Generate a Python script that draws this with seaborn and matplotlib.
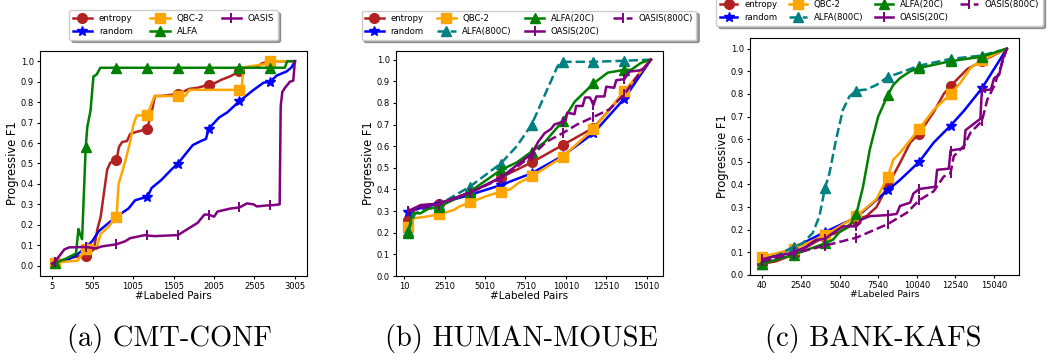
import numpy as np
import matplotlib
matplotlib.use("Agg")
import matplotlib.pyplot as plt
import seaborn as sns
from matplotlib.ticker import MultipleLocator, FormatStrFormatter

# ---------------- (a) CMT-CONF ----------------
a_marks = [40, 420, 800, 1180, 1560, 1940, 2320, 2700]
a_xticks = [5, 505, 1005, 1505, 2005, 2505, 3005]

a_entropy_x = [5, 40, 240, 420, 520, 565, 605, 645, 685, 725, 800, 830, 870, 930, 970, 1010, 1050, 1100,
               1180, 1235, 1275, 1350, 1560, 1620, 1700, 1800, 1940, 2000, 2100, 2200, 2320, 2400, 2550,
               2600, 2700, 3005]
a_entropy_y = [0.01, 0.016, 0.04, 0.05, 0.08, 0.18, 0.24, 0.355, 0.47, 0.505, 0.515, 0.58, 0.605, 0.61,
               0.645, 0.65, 0.655, 0.66, 0.67, 0.75, 0.83, 0.83, 0.84, 0.85, 0.865, 0.87, 0.885, 0.89,
               0.91, 0.925, 0.95, 0.97, 0.975, 0.99, 1.0, 1.0]

a_random_x = [5, 40, 200, 300, 420, 500, 583, 705, 800, 949, 1030, 1112, 1180, 1234, 1356, 1478, 1560,
              1641, 1743, 1845, 1906, 1940, 2069, 2170, 2252, 2320, 2495, 2618, 2700, 2781, 2903, 2964, 3005]
a_random_y = [0.0, 0.01, 0.03, 0.05, 0.09, 0.12, 0.17, 0.21, 0.24, 0.28, 0.32, 0.33, 0.335, 0.38, 0.42,
              0.47, 0.50, 0.54, 0.59, 0.61, 0.62, 0.67, 0.725, 0.75, 0.78, 0.805, 0.86, 0.895, 0.90, 0.93,
              0.95, 0.97, 1.0]

a_qbc_x = [5, 40, 320, 420, 505, 550, 603, 644, 700, 800, 827, 908, 969, 1010, 1051, 1180, 1270, 1560,
           1650, 1700, 2320, 2345, 2370, 2620, 2700, 3005]
a_qbc_y = [0.01, 0.016, 0.025, 0.08, 0.10, 0.08, 0.155, 0.17, 0.19, 0.24, 0.40, 0.51, 0.605, 0.69, 0.735,
           0.735, 0.83, 0.83, 0.83, 0.86, 0.86, 0.86, 0.97, 0.985, 1.0, 1.0]

a_alfa_x = [5, 40, 150, 300, 330, 345, 375, 420, 440, 480, 515, 555, 600, 800, 1180, 1560, 1940, 2320,
            2700, 2880, 2910, 3005]
a_alfa_y = [0.01, 0.015, 0.03, 0.06, 0.18, 0.16, 0.13, 0.58, 0.68, 0.76, 0.925, 0.935, 0.968, 0.968,
            0.968, 0.968, 0.968, 0.968, 0.968, 0.968, 1.0, 1.0]

a_oasis_x = [5, 40, 156, 217, 420, 542, 625, 800, 909, 969, 1153, 1180, 1275, 1560, 1722, 1804, 1886,
             1940, 2007, 2048, 2211, 2320, 2414, 2495, 2536, 2659, 2700, 2817, 2830, 2850, 2883, 2944,
             2985, 3005]
a_oasis_y = [0.01, 0.02, 0.08, 0.09, 0.092, 0.085, 0.095, 0.105, 0.12, 0.135, 0.15, 0.148, 0.145, 0.15,
             0.19, 0.21, 0.25, 0.25, 0.24, 0.265, 0.28, 0.285, 0.305, 0.30, 0.29, 0.295, 0.295, 0.30,
             0.78, 0.85, 0.87, 0.90, 0.905, 1.0]

# ---------------- (b) HUMAN-MOUSE ----------------
b_marks = [260, 2170, 4080, 5990, 7900, 9810, 11720, 13630]
b_xticks = [10, 2510, 5010, 7510, 10010, 12510, 15010]

b_entropy_x = [260, 600, 900, 2170, 4080, 5990, 7900, 9810, 11720, 12500, 13630, 14500, 15270]
b_entropy_y = [0.26, 0.30, 0.32, 0.335, 0.385, 0.455, 0.525, 0.605, 0.685, 0.75, 0.85, 0.93, 1.0]

b_random_x = [260, 830, 2170, 4080, 5990, 7900, 9810, 11720, 13630, 15270]
b_random_y = [0.297, 0.31, 0.335, 0.375, 0.42, 0.475, 0.555, 0.66, 0.82, 1.0]

b_qbc_x = [260, 630, 1440, 2170, 3080, 3390, 4080, 5130, 5990, 6570, 7080, 7900, 9810, 11720, 13630, 15270]
b_qbc_y = [0.225, 0.267, 0.275, 0.285, 0.305, 0.32, 0.34, 0.37, 0.39, 0.40, 0.43, 0.46, 0.55, 0.68, 0.855, 1.0]

b_alfa800_x = [260, 700, 2170, 4080, 5990, 6980, 7900, 9500, 9810, 11720, 13630, 15270]
b_alfa800_y = [0.21, 0.29, 0.33, 0.413, 0.52, 0.60, 0.70, 0.97, 0.99, 0.99, 0.995, 1.0]

b_alfa20_x = [260, 520, 1030, 1500, 2170, 4080, 5990, 6980, 7900, 8716, 9810, 10563, 11720, 12610, 13630,
              14045, 14660, 15270]
b_alfa20_y = [0.20, 0.29, 0.29, 0.31, 0.32, 0.39, 0.49, 0.525, 0.575, 0.62, 0.715, 0.806, 0.89, 0.94, 0.953,
              0.953, 0.985, 1.0]

b_oasis20_x = [260, 1035, 2170, 4080, 5990, 7900, 8300, 8700, 9100, 9300, 9810, 10000, 10100, 10550, 10650,
               11050, 11200, 11500, 11720, 11900, 12400, 12510, 13000, 13130, 13630, 13950, 14560, 14870, 15270]
b_oasis20_y = [0.30, 0.328, 0.335, 0.385, 0.455, 0.565, 0.62, 0.66, 0.68, 0.70, 0.713, 0.72, 0.755, 0.748,
               0.786, 0.786, 0.825, 0.825, 0.79, 0.83, 0.83, 0.875, 0.87, 0.905, 0.91, 0.945, 0.95, 0.96, 1.0]

b_oasis800_x = [260, 2170, 4080, 5990, 7900, 8800, 9810, 10700, 11720, 12700, 13630, 14400, 15270]
b_oasis800_y = [0.30, 0.33, 0.385, 0.45, 0.555, 0.62, 0.66, 0.70, 0.735, 0.77, 0.84, 0.92, 1.0]

# ---------------- (c) BANK-KAFS ----------------
c_marks = [40, 2070, 4100, 6130, 8160, 10190, 12220, 14250]
c_xticks = [40, 2540, 5040, 7540, 10040, 12540, 15040]

c_entropy_x = [40, 910, 2070, 4100, 5040, 6130, 6780, 7430, 8160, 8950, 9610, 10190, 11130, 11780, 12220,
               13300, 14250, 15860]
c_entropy_y = [0.05, 0.06, 0.09, 0.17, 0.19, 0.245, 0.26, 0.30, 0.395, 0.495, 0.585, 0.625, 0.72, 0.80,
               0.835, 0.91, 0.945, 1.0]

c_random_x = [40, 2070, 4100, 6130, 8160, 8950, 10190, 11130, 12220, 13080, 14250, 15860]
c_random_y = [0.065, 0.12, 0.19, 0.255, 0.375, 0.42, 0.50, 0.585, 0.66, 0.725, 0.825, 1.0]

c_qbc_x = [40, 2070, 4100, 6130, 7430, 8160, 8520, 8950, 10190, 11130, 12220, 12870, 13520, 14250, 15860]
c_qbc_y = [0.08, 0.115, 0.175, 0.26, 0.335, 0.435, 0.51, 0.54, 0.645, 0.73, 0.80, 0.85, 0.915, 0.95, 1.0]

c_alfa800_x = [40, 2070, 2650, 3300, 3740, 4100, 4390, 4820, 5260, 5690, 6130, 6780, 7430, 8160, 9000,
               10190, 12220, 14250, 15860]
c_alfa800_y = [0.05, 0.125, 0.14, 0.185, 0.26, 0.385, 0.45, 0.60, 0.73, 0.79, 0.815, 0.82, 0.84, 0.875,
               0.895, 0.925, 0.955, 0.97, 1.0]

c_alfa20_x = [40, 2070, 3300, 4100, 4600, 5040, 5700, 6130, 6560, 7000, 7540, 8160, 8520, 8950, 9610,
              10190, 12220, 14250, 15860]
c_alfa20_y = [0.05, 0.09, 0.12, 0.14, 0.155, 0.19, 0.215, 0.27, 0.39, 0.555, 0.70, 0.795, 0.84, 0.87, 0.90,
              0.915, 0.945, 0.965, 1.0]

c_oasis20_x = [40, 2070, 2870, 3520, 4100, 4600, 5260, 6130, 6450, 7000, 8160, 8740, 8950, 9610, 9820,
               10190, 11240, 11350, 12110, 12220, 13085, 13190, 13950, 14150, 14250, 14830, 15040, 15370,
               15580, 15860]
c_oasis20_y = [0.07, 0.10, 0.125, 0.155, 0.16, 0.185, 0.215, 0.215, 0.245, 0.26, 0.265, 0.27, 0.305, 0.32,
               0.36, 0.38, 0.39, 0.465, 0.47, 0.55, 0.56, 0.64, 0.68, 0.69, 0.815, 0.82, 0.87, 0.885, 0.95,
               1.0]

c_oasis800_x = [40, 2070, 4100, 6130, 8160, 9390, 10190, 11130, 11780, 12220, 12430, 13080, 13520, 14250,
                14600, 15040, 15480, 15860]
c_oasis800_y = [0.06, 0.095, 0.13, 0.165, 0.225, 0.275, 0.33, 0.37, 0.435, 0.45, 0.525, 0.57, 0.63, 0.68,
                0.775, 0.835, 0.92, 1.0]

captions = ["(a) CMT-CONF", "(b) HUMAN-MOUSE", "(c) BANK-KAFS"]


def draw(ax, xs, ys, marks, color, marker, label, ls="-"):
    mask = np.isin(xs, marks)
    mew = 1.4 if marker == "|" else 1.0
    sns.lineplot(x=xs, y=ys, ax=ax, estimator=None, sort=False, color=color, lw=1.8,
                 linestyle=ls, marker=marker, markevery=list(mask), markersize=7,
                 markeredgecolor=color, markeredgewidth=mew, label=label, legend=False)


def style(ax, xticks, tick_fs, xlab_fs, ybottom=None):
    ax.set_xticks(xticks)
    ax.yaxis.set_major_locator(MultipleLocator(0.1))
    ax.yaxis.set_major_formatter(FormatStrFormatter("%.1f"))
    if ybottom is not None:
        ax.set_ylim(bottom=ybottom)
    ax.tick_params(labelsize=tick_fs, length=2.5, pad=2)
    ax.set_xlabel("#Labeled Pairs", fontsize=xlab_fs, labelpad=0)
    ax.set_ylabel("Progressive F1", fontsize=8.3, labelpad=1)


fig = plt.figure(figsize=(10.48, 3.6), dpi=100)
ax_a = fig.add_axes([40 / 1048, 1 - 276 / 360, 267 / 1048, 225 / 360])
ax_b = fig.add_axes([396 / 1048, 1 - 276 / 360, 267 / 1048, 225 / 360])
ax_c = fig.add_axes([750 / 1048, 1 - 275 / 360, 269 / 1048, 237 / 360])

# (a)
draw(ax_a, a_entropy_x, a_entropy_y, a_marks, "firebrick", "o", "entropy")
draw(ax_a, a_random_x, a_random_y, a_marks, "blue", "*", "random")
draw(ax_a, a_qbc_x, a_qbc_y, a_marks, "orange", "s", "QBC-2")
draw(ax_a, a_alfa_x, a_alfa_y, a_marks, "green", "^", "ALFA")
draw(ax_a, a_oasis_x, a_oasis_y, a_marks, "purple", "|", "OASIS")
style(ax_a, a_xticks, 6, 7.4)
ax_a.legend(loc="lower center", bbox_to_anchor=(173.5 / 1048, 1 - 44 / 360), bbox_transform=fig.transFigure,
            ncol=3, fontsize=6.3, shadow=True, handlelength=2.2, columnspacing=2.0)

# (b)
for xs, ys, c, m, lab, ls in [
    (b_entropy_x, b_entropy_y, "firebrick", "o", "entropy", "-"),
    (b_random_x, b_random_y, "blue", "*", "random", "-"),
    (b_qbc_x, b_qbc_y, "orange", "s", "QBC-2", "-"),
    (b_alfa800_x, b_alfa800_y, "teal", "^", "ALFA(800C)", "--"),
    (b_alfa20_x, b_alfa20_y, "green", "^", "ALFA(20C)", "-"),
    (b_oasis20_x, b_oasis20_y, "purple", "|", "OASIS(20C)", "-"),
    (b_oasis800_x, b_oasis800_y, "purple", "|", "OASIS(800C)", "--"),
]:
    draw(ax_b, xs, ys, b_marks, c, m, lab, ls)
style(ax_b, b_xticks, 6, 7.5, ybottom=0)
ax_b.legend(loc="lower center", bbox_to_anchor=(529 / 1048, 1 - 44 / 360), bbox_transform=fig.transFigure,
            ncol=4, fontsize=6.1, shadow=True, handlelength=2.2, columnspacing=1.6)

# (c)
for xs, ys, c, m, lab, ls in [
    (c_entropy_x, c_entropy_y, "firebrick", "o", "entropy", "-"),
    (c_random_x, c_random_y, "blue", "*", "random", "-"),
    (c_qbc_x, c_qbc_y, "orange", "s", "QBC-2", "-"),
    (c_alfa800_x, c_alfa800_y, "teal", "^", "ALFA(800C)", "--"),
    (c_alfa20_x, c_alfa20_y, "green", "^", "ALFA(20C)", "-"),
    (c_oasis20_x, c_oasis20_y, "purple", "|", "OASIS(20C)", "-"),
    (c_oasis800_x, c_oasis800_y, "purple", "|", "OASIS(800C)", "--"),
]:
    draw(ax_c, xs, ys, c_marks, c, m, lab, ls)
style(ax_c, c_xticks, 6, 6.7, ybottom=0)
ax_c.legend(loc="lower left", bbox_to_anchor=(712 / 1048, 1 - 30 / 360), bbox_transform=fig.transFigure,
            ncol=4, fontsize=6.1, shadow=True, handlelength=2.1, columnspacing=1.4)

for cx, txt in zip([169, 521, 873], captions):
    fig.text(cx / 1048, 0.06, txt, family="cmr10", fontsize=20.5, ha="center", va="center")

fig.savefig("out.png", dpi=100)
